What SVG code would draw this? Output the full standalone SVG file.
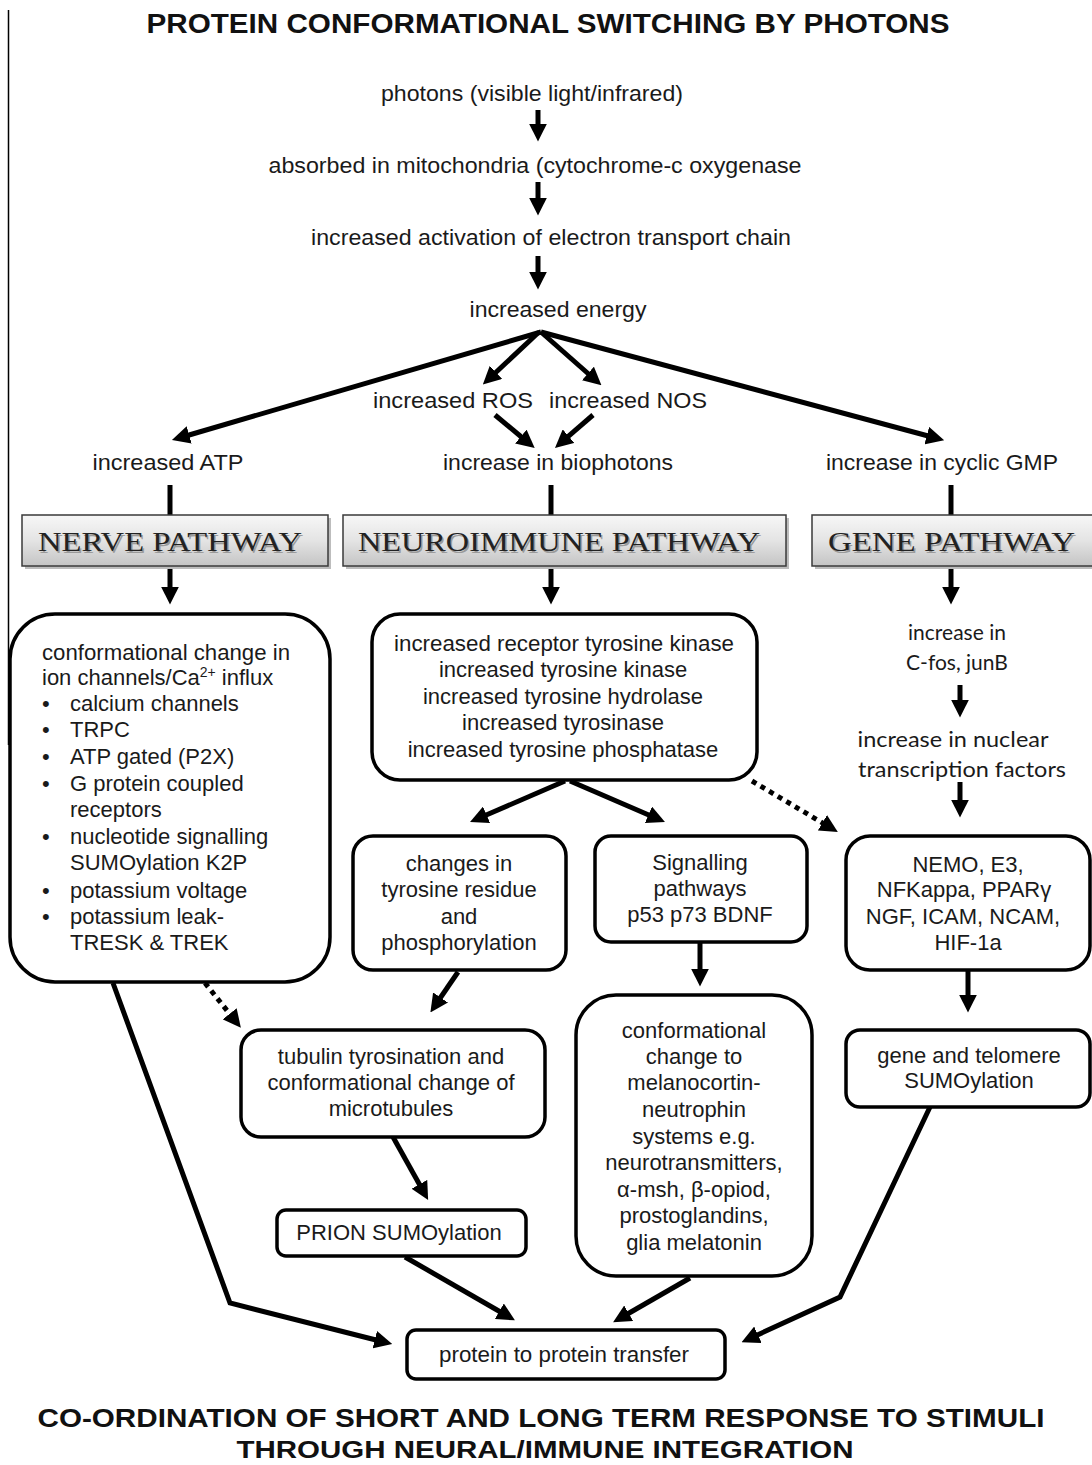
<svg xmlns="http://www.w3.org/2000/svg" width="1092" height="1465" viewBox="0 0 1092 1465">
<style>
.t{font-family:"Liberation Sans",Arial,sans-serif;font-size:22px;fill:#1a1a1a}
.c{text-anchor:middle}
.g{font-family:Lato,"Open Sans",sans-serif;font-size:21px;fill:#1a1a1a;text-anchor:middle}
.h{font-family:"Liberation Sans",Arial,sans-serif;font-weight:bold;fill:#111}
.hd{font-family:"Liberation Serif","Times New Roman",serif;font-size:28px;fill:#222}
.hs{font-family:"Liberation Serif","Times New Roman",serif;font-size:28px;fill:#9a9a9a}
.box{fill:#fff;stroke:#000;stroke-width:3.5}
.hb{fill:url(#hg);stroke:#3a3a3a;stroke-width:1.5}
.sh{fill:#bdbdbd}
.a{stroke:#000;stroke-width:5;fill:none;marker-end:url(#ah)}
.l{stroke:#000;stroke-width:5;fill:none}
.d{stroke:#000;stroke-width:5;fill:none;stroke-dasharray:5 5;marker-end:url(#ah)}
</style>
<defs>
<linearGradient id="hg" x1="0" y1="0" x2="0" y2="1">
<stop offset="0" stop-color="#f7f7f7"/>
<stop offset="0.5" stop-color="#e4e4e4"/>
<stop offset="1" stop-color="#c4c4c4"/>
</linearGradient>
<marker id="ah" viewBox="0 0 10 10" refX="3" refY="5" markerUnits="userSpaceOnUse" markerWidth="18" markerHeight="18" orient="auto">
<path d="M0,0 L10,5 L0,10 z" fill="#000"/>
</marker>
</defs>
<rect width="1092" height="1465" fill="#fff"/>
<line x1="8.5" y1="10" x2="8.5" y2="745" stroke="#000" stroke-width="1.5"/>

<text class="h" x="548" y="33" font-size="27" text-anchor="middle" textLength="803" lengthAdjust="spacingAndGlyphs">PROTEIN CONFORMATIONAL SWITCHING BY PHOTONS</text>

<g id="connectors">
<line class="a" x1="538" y1="110" x2="538" y2="129"/>
<line class="a" x1="538" y1="182" x2="538" y2="203"/>
<line class="a" x1="538" y1="256" x2="538" y2="277"/>
<line class="a" x1="541" y1="332" x2="184" y2="436.5"/>
<line class="a" x1="541" y1="332" x2="932" y2="437"/>
<line class="a" x1="539" y1="332" x2="492" y2="376"/>
<line class="a" x1="541" y1="332" x2="592" y2="377"/>
<line class="a" x1="495" y1="415" x2="525" y2="440"/>
<line class="a" x1="593" y1="415" x2="564.5" y2="439.7"/>
<line class="l" x1="170" y1="485" x2="170" y2="515"/>
<line class="l" x1="551" y1="485" x2="551" y2="515"/>
<line class="l" x1="951" y1="485" x2="951" y2="515"/>
<line class="a" x1="170" y1="566" x2="170" y2="592"/>
<line class="a" x1="551" y1="566" x2="551" y2="592"/>
<line class="a" x1="951" y1="566" x2="951" y2="592"/>
<line class="a" x1="960" y1="685" x2="960" y2="705"/>
<line class="a" x1="960" y1="782" x2="960" y2="805"/>
<line class="a" x1="565" y1="781" x2="481.6" y2="817"/>
<line class="a" x1="570" y1="781" x2="653.4" y2="817"/>
<line class="d" x1="752" y1="781" x2="827" y2="825.6"/>
<line class="d" x1="205" y1="983" x2="233" y2="1018"/>
<line class="a" x1="458" y1="972" x2="437.5" y2="1002"/>
<line class="a" x1="700" y1="942" x2="700" y2="974"/>
<line class="a" x1="968" y1="970" x2="968" y2="1000"/>
<line class="a" x1="393" y1="1137" x2="422" y2="1189"/>
<polyline class="a" points="113,983 230,1303 380,1341"/>
<line class="a" x1="405" y1="1257" x2="504" y2="1314"/>
<line class="a" x1="690" y1="1278" x2="624" y2="1316"/>
<polyline class="a" points="930,1107 840,1297 753,1337"/>
</g>

<g id="n-photons"><text class="t c" x="532" y="101" textLength="302" lengthAdjust="spacingAndGlyphs">photons (visible light/infrared)</text></g>
<g id="n-absorbed"><text class="t c" x="535" y="173" textLength="533" lengthAdjust="spacingAndGlyphs">absorbed in mitochondria (cytochrome-c oxygenase</text></g>
<g id="n-etc"><text class="t c" x="551" y="245" textLength="480" lengthAdjust="spacingAndGlyphs">increased activation of electron transport chain</text></g>
<g id="n-energy"><text class="t c" x="558" y="317" textLength="177" lengthAdjust="spacingAndGlyphs">increased energy</text></g>
<g id="n-ros"><text class="t c" x="453" y="408" textLength="160" lengthAdjust="spacingAndGlyphs">increased ROS</text></g>
<g id="n-nos"><text class="t c" x="628" y="408" textLength="158" lengthAdjust="spacingAndGlyphs">increased NOS</text></g>
<g id="n-atp"><text class="t c" x="168" y="470" textLength="151" lengthAdjust="spacingAndGlyphs">increased ATP</text></g>
<g id="n-bio"><text class="t c" x="558" y="470" textLength="230" lengthAdjust="spacingAndGlyphs">increase in biophotons</text></g>
<g id="n-cgmp"><text class="t c" x="942" y="470" textLength="232" lengthAdjust="spacingAndGlyphs">increase in cyclic GMP</text></g>

<g id="h-nerve">
<rect class="sh" x="25" y="518" width="306" height="51"/>
<rect class="hb" x="22" y="515" width="306" height="51"/>
<text class="hs" x="171.5" y="552.5" text-anchor="middle" textLength="264" lengthAdjust="spacingAndGlyphs">NERVE PATHWAY</text>
<text class="hd" x="170" y="551" text-anchor="middle" textLength="264" lengthAdjust="spacingAndGlyphs">NERVE PATHWAY</text>
</g>
<g id="h-neuro">
<rect class="sh" x="346" y="518" width="443" height="51"/>
<rect class="hb" x="343" y="515" width="443" height="51"/>
<text class="hs" x="560.5" y="552.5" text-anchor="middle" textLength="402" lengthAdjust="spacingAndGlyphs">NEUROIMMUNE PATHWAY</text>
<text class="hd" x="559" y="551" text-anchor="middle" textLength="402" lengthAdjust="spacingAndGlyphs">NEUROIMMUNE PATHWAY</text>
</g>
<g id="h-gene">
<rect class="sh" x="815" y="518" width="290" height="51"/>
<rect class="hb" x="812" y="515" width="290" height="51"/>
<text class="hs" x="953" y="552.5" text-anchor="middle" textLength="247" lengthAdjust="spacingAndGlyphs">GENE PATHWAY</text>
<text class="hd" x="951.5" y="551" text-anchor="middle" textLength="247" lengthAdjust="spacingAndGlyphs">GENE PATHWAY</text>
</g>

<g id="n-nerve">
<rect class="box" x="10" y="614" width="320" height="368" rx="45"/>
<text class="t" x="42" y="660" textLength="248" lengthAdjust="spacingAndGlyphs">conformational change in</text>
<text class="t" x="42" y="685">ion channels/Ca<tspan font-size="14" dy="-8">2+</tspan><tspan dy="8"> influx</tspan></text>
<text class="t" x="42" y="711">•</text><text class="t" x="70" y="711">calcium channels</text>
<text class="t" x="42" y="737">•</text><text class="t" x="70" y="737">TRPC</text>
<text class="t" x="42" y="764">•</text><text class="t" x="70" y="764">ATP gated (P2X)</text>
<text class="t" x="42" y="791">•</text><text class="t" x="70" y="791">G protein coupled</text>
<text class="t" x="70" y="817">receptors</text>
<text class="t" x="42" y="844">•</text><text class="t" x="70" y="844">nucleotide signalling</text>
<text class="t" x="70" y="870">SUMOylation  K2P</text>
<text class="t" x="42" y="898">•</text><text class="t" x="70" y="898">potassium voltage</text>
<text class="t" x="42" y="924">•</text><text class="t" x="70" y="924">potassium leak-</text>
<text class="t" x="70" y="950">TRESK &amp; TREK</text>
</g>

<g id="n-neuro">
<rect class="box" x="372" y="614" width="385" height="166" rx="28"/>
<text class="t c" x="564" y="651" textLength="340" lengthAdjust="spacingAndGlyphs">increased receptor tyrosine kinase</text>
<text class="t c" x="563" y="677">increased tyrosine kinase</text>
<text class="t c" x="563" y="704">increased tyrosine hydrolase</text>
<text class="t c" x="563" y="730">increased tyrosinase</text>
<text class="t c" x="563" y="757">increased tyrosine phosphatase</text>
</g>

<g id="n-genetext">
<text class="g" x="957" y="640">increase in</text>
<text class="g" x="957" y="670">C-fos, junB</text>
<text class="g" x="953" y="747" textLength="191" lengthAdjust="spacingAndGlyphs">increase in nuclear</text>
<text class="g" x="962" y="777" textLength="208" lengthAdjust="spacingAndGlyphs">transcription  factors</text>
</g>

<g id="n-changes">
<rect class="box" x="353" y="836" width="213" height="134" rx="20"/>
<text class="t c" x="459" y="871">changes in</text>
<text class="t c" x="459" y="897">tyrosine residue</text>
<text class="t c" x="459" y="924">and</text>
<text class="t c" x="459" y="950">phosphorylation</text>
</g>

<g id="n-signalling">
<rect class="box" x="595" y="836" width="212" height="106" rx="16"/>
<text class="t c" x="700" y="870">Signalling</text>
<text class="t c" x="700" y="896">pathways</text>
<text class="t c" x="700" y="922">p53 p73 BDNF</text>
</g>

<g id="n-nemo">
<rect class="box" x="846" y="836" width="244" height="134" rx="24"/>
<text class="t c" x="968" y="872">NEMO,  E3,</text>
<text class="t c" x="964" y="897">NFKappa, PPARγ</text>
<text class="t c" x="963" y="924">NGF, ICAM,  NCAM,</text>
<text class="t c" x="968" y="950">HIF-1a</text>
</g>

<g id="n-tubulin">
<rect class="box" x="241" y="1030" width="304" height="107" rx="20"/>
<text class="t c" x="391" y="1064">tubulin tyrosination and</text>
<text class="t c" x="391" y="1090">conformational change of</text>
<text class="t c" x="391" y="1116">microtubules</text>
</g>

<g id="n-melano">
<rect class="box" x="576" y="995" width="236" height="281" rx="40"/>
<text class="t c" x="694" y="1038">conformational</text>
<text class="t c" x="694" y="1064">change to</text>
<text class="t c" x="694" y="1090">melanocortin-</text>
<text class="t c" x="694" y="1117">neutrophin</text>
<text class="t c" x="694" y="1144">systems e.g.</text>
<text class="t c" x="694" y="1170">neurotransmitters,</text>
<text class="t c" x="694" y="1197">α-msh, β-opiod,</text>
<text class="t c" x="694" y="1223">prostoglandins,</text>
<text class="t c" x="694" y="1250">glia melatonin</text>
</g>

<g id="n-telomere">
<rect class="box" x="846" y="1030" width="244" height="77" rx="14"/>
<text class="t c" x="969" y="1063">gene and telomere</text>
<text class="t c" x="969" y="1088">SUMOylation</text>
</g>

<g id="n-prion">
<rect class="box" x="277" y="1210" width="249" height="46" rx="9"/>
<text class="t c" x="399" y="1240">PRION  SUMOylation</text>
</g>

<g id="n-transfer">
<rect class="box" x="407" y="1330" width="318" height="49" rx="9"/>
<text class="t c" x="564" y="1362" textLength="250" lengthAdjust="spacingAndGlyphs">protein to protein transfer</text>
</g>

<text class="h" x="541" y="1427" font-size="26" text-anchor="middle" textLength="1007" lengthAdjust="spacingAndGlyphs">CO-ORDINATION OF SHORT AND  LONG TERM RESPONSE TO STIMULI</text>
<text class="h" x="545" y="1458" font-size="24" text-anchor="middle" textLength="617" lengthAdjust="spacingAndGlyphs">THROUGH NEURAL/IMMUNE INTEGRATION</text>
</svg>
